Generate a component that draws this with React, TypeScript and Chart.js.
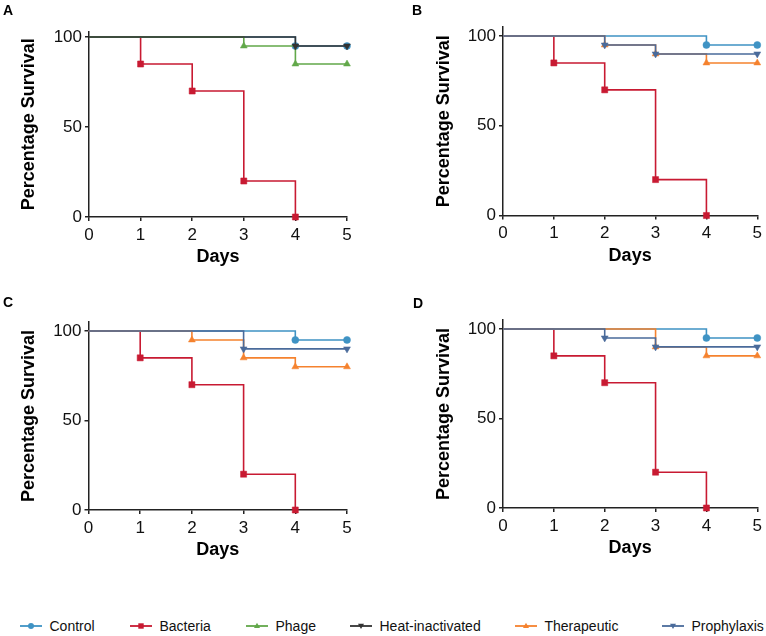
import React, { useEffect, useRef } from "react";
import { Chart, registerables } from "chart.js";

Chart.register(...registerables);

const FONT = 'Arial, "Liberation Sans", Helvetica, sans-serif';

// ---- series meta ----
const SERIES_NAMES = ["Control", "Bacteria", "Phage", "Heat-inactivated", "Therapeutic", "Prophylaxis"];
const SERIES_COLORS = ["#3f93c4", "#c81a32", "#62a84a", "#333333", "#f5822e", "#4a6b9b"];
const SERIES_MARKERS = ["circle", "rect", "triangle", "triangleDown", "triangle", "triangleDown"];
const SERIES_ORDER = [4, 5, 3, 2, 1, 0];

// ---- ticks ----
const DAY_TICKS = [0, 1, 2, 3, 4, 5];
const SURVIVAL_TICKS = [0, 50, 100];

// ---- data ----
const bacteriaDays = [0, 1, 2, 3, 4];
const bacteriaSurvival = [100, 85, 70, 20, 0];
const controlDays = [0, 4, 5];
const controlSurvival = [100, 95, 95];

const aPhageDays = [0, 3, 4, 5];
const aPhageSurvival = [100, 95, 85, 85];
const aHeatDays = [0, 4, 5];
const aHeatSurvival = [100, 95, 95];

const bTherapeuticDays = [0, 2, 3, 4, 5];
const bTherapeuticSurvival = [100, 95, 90, 85, 85];
const bProphylaxisDays = [0, 2, 3, 5];
const bProphylaxisSurvival = [100, 95, 90, 90];

const cTherapeuticDays = [0, 2, 3, 4, 5];
const cTherapeuticSurvival = [100, 95, 85, 80, 80];
const cProphylaxisDays = [0, 3, 5];
const cProphylaxisSurvival = [100, 90, 90];

const dTherapeuticDays = [0, 3, 4, 5];
const dTherapeuticSurvival = [100, 90, 85, 85];
const dProphylaxisDays = [0, 2, 3, 5];
const dProphylaxisSurvival = [100, 95, 90, 90];

type SeriesRef = { idx: number; days: number[]; surv: number[] };

const PANELS: {
  letter: string;
  series: SeriesRef[];
  canvas: { left: number; top: number; w: number; h: number };
  chartLeft: number;
  chartRight: number;
  y0: number;
  y100: number;
  yMax: number;
  yTitleX: number;
  letterPos: { left: number; top: number };
}[] = [
  {
    letter: "A",
    series: [
      { idx: 0, days: controlDays, surv: controlSurvival },
      { idx: 1, days: bacteriaDays, surv: bacteriaSurvival },
      { idx: 2, days: aPhageDays, surv: aPhageSurvival },
      { idx: 3, days: aHeatDays, surv: aHeatSurvival },
    ],
    canvas: { left: 0, top: 0, w: 383, h: 290 },
    chartLeft: 89,
    chartRight: 347,
    y0: 217,
    y100: 37,
    yMax: 103,
    yTitleX: 29.5,
    letterPos: { left: 3, top: 3 },
  },
  {
    letter: "B",
    series: [
      { idx: 0, days: controlDays, surv: controlSurvival },
      { idx: 1, days: bacteriaDays, surv: bacteriaSurvival },
      { idx: 4, days: bTherapeuticDays, surv: bTherapeuticSurvival },
      { idx: 5, days: bProphylaxisDays, surv: bProphylaxisSurvival },
    ],
    canvas: { left: 383, top: 0, w: 383, h: 290 },
    chartLeft: 503,
    chartRight: 760,
    y0: 215.5,
    y100: 36,
    yMax: 105,
    yTitleX: 444.5,
    letterPos: { left: 412, top: 3 },
  },
  {
    letter: "C",
    series: [
      { idx: 0, days: controlDays, surv: controlSurvival },
      { idx: 1, days: bacteriaDays, surv: bacteriaSurvival },
      { idx: 4, days: cTherapeuticDays, surv: cTherapeuticSurvival },
      { idx: 5, days: cProphylaxisDays, surv: cProphylaxisSurvival },
    ],
    canvas: { left: 0, top: 290, w: 383, h: 305 },
    chartLeft: 88.5,
    chartRight: 347,
    y0: 510,
    y100: 331,
    yMax: 105,
    yTitleX: 29.5,
    letterPos: { left: 3, top: 295 },
  },
  {
    letter: "D",
    series: [
      { idx: 0, days: controlDays, surv: controlSurvival },
      { idx: 1, days: bacteriaDays, surv: bacteriaSurvival },
      { idx: 4, days: dTherapeuticDays, surv: dTherapeuticSurvival },
      { idx: 5, days: dProphylaxisDays, surv: dProphylaxisSurvival },
    ],
    canvas: { left: 383, top: 290, w: 383, h: 305 },
    chartLeft: 503,
    chartRight: 760,
    y0: 508,
    y100: 329,
    yMax: 105,
    yTitleX: 444.5,
    letterPos: { left: 413, top: 296 },
  },
];

const LEGEND_LEFTS = [20, 130, 246, 350, 515, 662];

function markerRadius(m: string) {
  if (m === "circle") return 3.5;
  if (m === "rect") return 4.3;
  return 4;
}

function Panel({ p }: { p: (typeof PANELS)[number] }) {
  const ref = useRef<HTMLCanvasElement | null>(null);
  useEffect(() => {
    if (!ref.current) return;
    const { canvas, chartLeft, chartRight, y0, y100, yMax } = p;
    const chartTop = y0 - ((y0 - y100) * yMax) / 100;
    const yWidth = chartLeft - canvas.left;
    const padRight = canvas.left + canvas.w - chartRight;
    const padTop = chartTop - canvas.top;
    const xHeight = canvas.top + canvas.h - y0;
    const titleLH = 18 * 1.2;
    const xTitlePadBottom = canvas.top + canvas.h - (y0 + 40.5) - titleLH / 2;
    const yTitlePadTop = p.yTitleX - canvas.left - titleLH / 2;
    const axisColor = "#222222";

    const datasets = p.series.map((s) => {
      const m = SERIES_MARKERS[s.idx];
      const r = markerRadius(m);
      const color = SERIES_COLORS[s.idx];
      return {
        label: SERIES_NAMES[s.idx],
        data: s.days.map((d, i) => ({ x: d, y: s.surv[i] })),
        borderColor: color,
        backgroundColor: color,
        borderWidth: 1.6,
        stepped: true as const,
        fill: false,
        pointStyle: (m === "triangleDown" ? "triangle" : m) as any,
        pointRotation: m === "triangleDown" ? 180 : 0,
        pointRadius: s.days.map((_, i) => (i === 0 ? 0 : r)),
        pointBorderWidth: 0.5,
        pointBorderColor: color,
        pointBackgroundColor: color,
        order: SERIES_ORDER[s.idx],
        clip: false as any,
      };
    });

    const chart = new Chart(ref.current, {
      type: "line",
      data: { datasets },
      options: {
        responsive: false,
        animation: false,
        devicePixelRatio: 1,
        layout: { padding: { left: 0, right: padRight, top: padTop, bottom: 0 } },
        plugins: { legend: { display: false }, tooltip: { enabled: false }, title: { display: false } },
        events: [],
        scales: {
          x: {
            type: "linear",
            min: 0,
            max: 5,
            afterBuildTicks: (scale: any) => {
              scale.ticks = DAY_TICKS.map((v) => ({ value: v }));
            },
            afterFit: (scale: any) => {
              scale.height = xHeight;
            },
            ticks: {
              font: { family: FONT, size: 17 },
              color: "#111111",
              padding: 4,
              maxRotation: 0,
              callback: (v: any) => String(v),
            },
            grid: { drawOnChartArea: false, drawTicks: true, tickLength: 4, color: axisColor, lineWidth: 1.5 },
            border: { display: true, color: axisColor, width: 1.5 },
            title: {
              display: true,
              text: "Days",
              color: "#000000",
              font: { family: FONT, size: 18, weight: "bold", lineHeight: 1.2 },
              padding: { top: 0, bottom: xTitlePadBottom },
            },
          },
          y: {
            type: "linear",
            min: 0,
            max: yMax,
            afterBuildTicks: (scale: any) => {
              scale.ticks = SURVIVAL_TICKS.map((v) => ({ value: v }));
            },
            afterFit: (scale: any) => {
              scale.width = yWidth;
            },
            ticks: {
              font: { family: FONT, size: 17 },
              color: "#111111",
              padding: 3,
              callback: (v: any) => String(v),
            },
            grid: { drawOnChartArea: false, drawTicks: true, tickLength: 4, color: axisColor, lineWidth: 1.5 },
            border: { display: true, color: axisColor, width: 1.5 },
            title: {
              display: true,
              text: "Percentage Survival",
              color: "#000000",
              font: { family: FONT, size: 18, weight: "bold", lineHeight: 1.2 },
              padding: { top: yTitlePadTop, bottom: 0 },
            },
          },
        },
      } as any,
    });
    return () => chart.destroy();
  }, [p]);

  return (
    <>
      <canvas
        ref={ref}
        width={p.canvas.w}
        height={p.canvas.h}
        style={{ position: "absolute", left: p.canvas.left, top: p.canvas.top, width: p.canvas.w, height: p.canvas.h }}
      />
      <div
        style={{
          position: "absolute",
          left: p.letterPos.left,
          top: p.letterPos.top,
          fontFamily: FONT,
          fontWeight: "bold",
          fontSize: 14,
          lineHeight: "14px",
          color: "#000",
        }}
      >
        {p.letter}
      </div>
    </>
  );
}

function LegendMarker({ idx }: { idx: number }) {
  const color = SERIES_COLORS[idx];
  const m = SERIES_MARKERS[idx];
  let shape: React.ReactNode = null;
  if (m === "circle") shape = <circle cx={11} cy={6} r={3} fill={color} />;
  else if (m === "rect") shape = <rect x={8.3} y={3.3} width={5.4} height={5.4} fill={color} />;
  else if (m === "triangle") shape = <polygon points="11,2.8 14,8 8,8" fill={color} />;
  else shape = <polygon points="8,3.8 14,3.8 11,9" fill={color} />;
  return (
    <svg width={22} height={12} style={{ display: "block" }}>
      <line x1={0} y1={6} x2={22} y2={6} stroke={color} strokeWidth={1.8} />
      {shape}
    </svg>
  );
}

export default function App() {
  return (
    <div
      style={{
        position: "absolute",
        left: 0,
        top: 0,
        width: 766,
        height: 636,
        background: "#ffffff",
        overflow: "hidden",
      }}
    >
      {PANELS.map((p) => (
        <Panel key={p.letter} p={p} />
      ))}
      {SERIES_NAMES.map((name, i) => (
        <React.Fragment key={name}>
          <div style={{ position: "absolute", left: LEGEND_LEFTS[i], top: 620 }}>
            <LegendMarker idx={i} />
          </div>
          <div
            style={{
              position: "absolute",
              left: LEGEND_LEFTS[i] + 29.5,
              top: 618.2,
              fontFamily: FONT,
              fontSize: 14,
              lineHeight: "16px",
              color: "#111",
              whiteSpace: "nowrap",
            }}
          >
            {name}
          </div>
        </React.Fragment>
      ))}
    </div>
  );
}
